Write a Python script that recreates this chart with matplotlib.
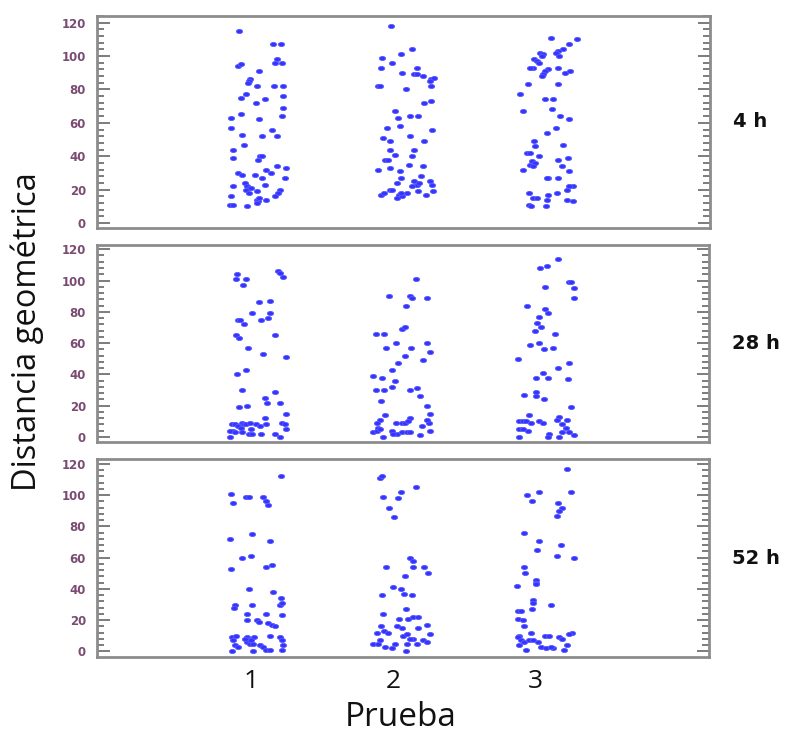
import numpy as np
import matplotlib
matplotlib.use("Agg")
import matplotlib.pyplot as plt
from matplotlib.path import Path
from matplotlib.ticker import MultipleLocator

# ---------------- data (jitter offset, distance) ----------------
categories = [1, 2, 3]
tick_labels = ["1", "2", "3"]
panel_labels = ["4 h", "28 h", "52 h"]
y_ticks = [0, 20, 40, 60, 80, 100, 120]

h4_prueba1 = [(-0.084,115),(0.157,107),(0.211,107),(0.181,98),(-0.093,94),(-0.072,95),(0.169,96),(0.216,96),
    (0.054,91),(-0.007,86),(-0.011,85),(-0.018,84),(0.045,82),(0.164,82),(0.227,82),(-0.035,77),(-0.072,75),
    (0.099,74),(0.033,72),(0.223,76),(0.227,69),(-0.140,63),(-0.072,65),(0.054,62),(0.220,64),(-0.140,57),
    (0.146,56),(-0.060,53),(0.078,52),(0.181,52),(-0.049,47),(-0.128,44),(-0.128,39),(0.064,40),(0.052,38),
    (0.075,40),(0.106,32),(0.141,30),(0.181,34),(0.248,33),(0.237,27),(-0.093,30),(-0.063,29),(0.029,29),
    (0.078,27),(-0.128,22),(-0.042,24),(-0.030,22),(-0.011,21),(-0.035,20),(0.001,21),(0.099,23),(0.040,19),
    (-0.014,18),(0.204,20),(0.192,18),(0.169,16),(-0.140,16),(-0.147,11),(-0.128,11),(-0.025,10),(0.045,14),
    (0.052,13),(0.040,12),(0.059,15),(0.106,14)]
h4_prueba2 = [(-0.016,118),(0.131,104),(0.054,101),(-0.084,99),(-0.009,96),(-0.091,93),(0.162,93),(0.061,90),
    (0.147,89),(0.162,89),(0.208,88),(0.260,86),(0.283,87),(0.255,85),(-0.107,82),(-0.096,82),(0.087,80),
    (0.260,82),(0.213,72),(0.260,73),(0.009,67),(0.031,63),(0.119,64),(0.171,64),(-0.049,57),(0.042,58),
    (0.271,56),(0.119,52),(-0.072,51),(-0.026,49),(0.213,49),(-0.028,44),(0.009,41),(0.143,44),(0.131,40),
    (-0.063,38),(-0.040,38),(-0.107,32),(-0.026,33),(0.110,35),(0.208,34),(0.042,31),(0.190,28),(0.054,27),
    (0.026,24),(0.143,25),(0.162,23),(0.178,24),(0.131,22),(0.255,25),(0.271,23),(0.274,19),(0.171,19),
    (-0.091,17),(-0.068,18),(-0.026,20),(-0.009,20),(0.038,17),(0.026,15),(0.061,16),(0.096,18),(0.049,18),
    (0.225,17)]
h4_prueba3 = [(0.105,111),(0.285,110),(0.233,107),(0.191,104),(0.156,103),(0.140,102),(0.028,102),(0.051,101),
    (0.039,100),(0.163,100),(-0.014,98),(0.004,97),(0.023,96),(-0.019,93),(-0.043,93),(0.086,92),(0.063,91),
    (0.051,89),(0.039,88),(0.156,93),(0.203,90),(0.238,91),(-0.059,83),(0.156,83),(-0.113,77),(0.063,74),
    (0.121,74),(0.110,68),(-0.094,67),(0.168,64),(0.233,62),(0.140,57),(0.074,54),(-0.014,49),(-0.007,46),
    (0.191,47),(-0.061,42),(-0.043,42),(0.023,40),(-0.031,37),(-0.043,35),(-0.007,36),(-0.024,34),(0.156,38),
    (0.226,39),(0.180,34),(-0.089,32),(0.233,31),(0.086,27),(0.074,27),(0.156,27),(0.257,22),(0.233,22),
    (0.215,20),(-0.050,18),(-0.024,15),(0.009,15),(0.086,17),(0.074,14),(0.145,18),(0.215,14),(0.262,13),
    (-0.047,11),(-0.036,10),(0.070,10)]

h28_prueba1 = [(-0.100,104),(-0.105,101),(-0.035,101),(-0.058,97),(0.188,106),(0.204,105),(0.227,102),(0.059,86),
    (0.134,87),(0.012,79),(0.134,79),(0.075,75),(0.122,76),(-0.088,75),(-0.077,75),(-0.049,72),(-0.105,65),
    (-0.084,63),(0.169,65),(-0.018,57),(0.087,53),(0.251,51),(-0.037,43),(-0.095,40),(-0.060,30),(0.169,29),
    (-0.081,19),(-0.025,20),(0.099,25),(0.115,22),(0.204,22),(0.251,15),(0.099,12),(-0.135,8),(-0.112,8),
    (-0.065,9),(-0.049,8),(-0.035,8),(-0.007,9),(-0.088,7),(-0.072,6),(0.040,8),(0.064,7),(0.110,8),(0.220,9),
    (0.241,8),(-0.128,4),(-0.147,4),(-0.060,3),(-0.011,2),(0.005,5),(0.012,2),(0.075,2),(0.251,5),(-0.147,0),
    (0.169,2),(0.204,0),(-0.112,3)]
h28_prueba2 = [(0.162,101),(-0.026,90),(0.119,90),(0.131,89),(0.236,89),(0.091,84),(0.061,69),(0.084,70),
    (-0.119,66),(-0.063,66),(-0.049,57),(0.019,60),(0.124,57),(0.241,60),(0.260,54),(0.082,52),(0.033,47),
    (0.213,49),(-0.005,43),(-0.143,39),(-0.079,38),(0.014,36),(-0.119,30),(-0.063,30),(-0.005,32),(0.119,30),
    (0.166,31),(-0.084,23),(0.190,26),(0.241,20),(-0.056,14),(0.260,15),(0.119,12),(-0.091,11),(-0.115,9),
    (0.021,9),(0.061,9),(0.084,9),(0.108,10),(0.255,9),(0.236,11),(-0.103,6),(0.201,7),(-0.138,3),(-0.115,4),
    (-0.091,5),(-0.009,4),(0.026,2),(0.061,3),(0.096,3),(0.119,3),(0.190,1),(0.260,4),(-0.068,0),(0.002,2)]
h28_prueba3 = [(0.159,114),(0.032,108),(0.079,109),(0.067,96),(0.238,99),(0.248,99),(0.269,95),(0.273,89),
    (-0.059,84),(0.067,82),(0.086,79),(0.023,77),(0.009,73),(0.039,70),(0.000,68),(0.138,66),(-0.038,59),
    (0.023,60),(0.058,56),(0.121,57),(-0.120,50),(0.163,44),(0.238,47),(0.056,41),(0.004,38),(0.089,38),
    (0.233,37),(0.004,29),(-0.078,27),(0.004,26),(0.058,24),(0.250,19),(-0.043,14),(-0.113,10),(-0.089,10),
    (-0.066,10),(-0.031,9),(0.028,10),(0.051,9),(0.168,13),(0.152,11),(0.220,11),(0.191,8),(-0.113,5),
    (-0.089,5),(-0.054,4),(0.215,6),(0.238,3),(-0.113,0),(0.098,2),(0.168,0),(0.273,1),(0.086,0),(0.191,3)]

h52_prueba1 = [(0.211,112),(-0.140,101),(-0.128,95),(-0.035,99),(-0.011,99),(0.087,99),(0.106,96),(0.122,94),
    (-0.147,72),(0.012,75),(0.134,71),(-0.065,60),(0.005,61),(-0.140,53),(0.110,54),(0.146,55),(-0.014,40),
    (0.153,38),(0.211,34),(-0.112,30),(-0.116,28),(0.012,30),(0.204,30),(0.216,31),(-0.025,24),(0.110,24),
    (0.216,23),(-0.030,20),(0.045,20),(0.059,19),(0.122,18),(0.146,17),(0.169,16),(0.134,10),(-0.135,9),
    (-0.105,10),(-0.123,7),(-0.030,9),(-0.007,8),(0.022,9),(0.204,9),(0.216,7),(-0.112,4),(-0.088,3),
    (-0.030,6),(-0.007,5),(0.017,5),(0.064,4),(0.087,3),(0.110,1),(0.134,1),(0.227,4),(-0.135,0),(0.017,0),
    (0.216,1),(-0.042,8),(0.005,7)]
h52_prueba2 = [(-0.091,111),(-0.079,112),(0.162,105),(0.054,102),(-0.072,99),(0.033,98),(-0.026,92),(0.007,86),
    (0.119,60),(0.138,58),(-0.049,54),(0.143,54),(0.218,54),(0.248,50),(0.087,48),(-0.002,41),(0.054,40),
    (-0.075,36),(0.077,37),(0.131,36),(0.091,27),(-0.068,24),(0.042,21),(0.108,21),(0.138,22),(0.178,22),
    (-0.086,16),(0.026,16),(0.061,15),(0.178,15),(0.241,17),(-0.115,12),(-0.061,13),(-0.033,12),(0.073,10),
    (0.096,11),(0.138,8),(0.260,11),(-0.138,5),(-0.103,5),(-0.056,3),(-0.009,2),(0.014,5),(0.096,5),
    (0.166,5),(0.213,7),(0.236,6),(0.091,0),(-0.091,7),(0.119,8)]
h52_prueba3 = [(0.226,117),(0.023,102),(0.250,102),(-0.061,100),(-0.026,96),(0.163,95),(0.191,92),(0.168,90),
    (0.156,87),(-0.078,76),(0.023,71),(0.009,65),(0.180,68),(0.152,61),(0.269,60),(-0.078,54),(-0.071,50),
    (0.004,46),(0.004,44),(0.004,43),(-0.129,42),(-0.014,33),(-0.014,31),(0.110,30),(-0.124,26),(-0.101,26),
    (-0.024,27),(-0.124,21),(-0.089,20),(-0.078,16),(0.257,12),(0.238,11),(-0.113,10),(-0.124,9),(-0.031,12),
    (0.070,10),(0.093,10),(0.168,9),(0.187,8),(-0.101,7),(-0.078,6),(-0.043,7),(-0.014,7),(0.016,6),
    (-0.113,4),(-0.066,1),(0.039,3),(0.074,2),(0.126,2),(0.203,1),(0.226,4),(0.110,3)]

panels = [
    [h4_prueba1, h4_prueba2, h4_prueba3],
    [h28_prueba1, h28_prueba2, h28_prueba3],
    [h52_prueba1, h52_prueba2, h52_prueba3],
]

# ---------------- figure ----------------
W, H = 804, 734
fig = plt.figure(figsize=(W / 100, H / 100), dpi=100)

# axes boxes in pixels (left, top, right, bottom)
boxes = [(97, 16, 710, 228), (97, 245, 709, 442), (97, 459, 709, 657)]
ylims = [(-3, 124), (-3.2, 122.7), (-3.6, 123.2)]

theta = np.linspace(0, 2 * np.pi, 41)
ellipse = Path(np.column_stack([1.5 * np.cos(theta), np.sin(theta)]), closed=True)

tick_color = "#7a4c72"
blue = "#3434ff"

axes = []
for i, (box, data) in enumerate(zip(boxes, panels)):
    l, t, r, b = box
    ax = fig.add_axes([l / W, 1 - b / H, (r - l) / W, (b - t) / H])
    axes.append(ax)
    for cat, pts in zip(categories, data):
        arr = np.array(pts, dtype=float)
        ax.scatter(cat + arr[:, 0], arr[:, 1], marker=ellipse, s=20,
                   facecolor=blue, edgecolor="#5a5aff", linewidths=0.6, zorder=3)
    ax.set_xlim(-0.081, 4.221)
    ax.set_ylim(*ylims[i])
    ax.set_yticks(y_ticks)
    ax.yaxis.set_minor_locator(MultipleLocator(4))
    ax.tick_params(axis="y", which="both", direction="in", left=True, right=True,
                   color="#666666", width=1.2)
    ax.tick_params(axis="y", which="major", length=9, pad=8,
                   labelsize=8.5, labelcolor=tick_color)
    ax.tick_params(axis="y", which="minor", length=5)
    for lab in ax.get_yticklabels():
        lab.set_fontweight("bold")
        lab.set_family("DejaVu Sans")
    for sp in ax.spines.values():
        sp.set_color("#8c8c8c")
        sp.set_linewidth(2.0)
    if i < 2:
        ax.set_xticks([])
    else:
        ax.set_xticks(categories)
        ax.set_xticklabels(tick_labels, fontsize=19, family=["Open Sans", "DejaVu Sans"],
                           color="#111111")
        ax.tick_params(axis="x", length=0, pad=9)
    ax.text(1.0375, 0.5, panel_labels[i], transform=ax.transAxes, ha="left", va="center",
            fontsize=14, fontweight="bold", family="DejaVu Sans", color="#111111")

fig.text(27 / W, 1 - 332 / H, "Distancia geométrica", rotation=90, ha="center", va="center",
         fontsize=23.5, family=["Open Sans", "DejaVu Sans"], color="#111111")
fig.text(401 / W, 1 - 717 / H, "Prueba", ha="center", va="center",
         fontsize=24, family=["Open Sans", "DejaVu Sans"], color="#111111")

fig.savefig("out.png", dpi=100)
